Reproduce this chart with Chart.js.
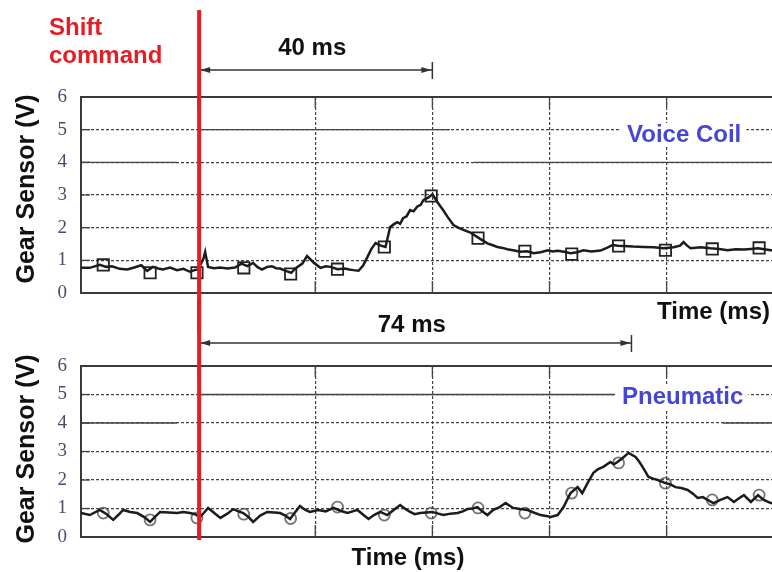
<!DOCTYPE html>
<html>
<head>
<meta charset="utf-8">
<script src="https://cdn.jsdelivr.net/npm/chart.js@4.4.1/dist/chart.umd.min.js"></script>
<style>
  html, body { margin: 0; padding: 0; background: #fff; overflow: hidden; }
  body { width: 772px; height: 572px; position: relative; }
  canvas { position: absolute; left: 0; }
  #topChart { top: 0; }
  #bottomChart { top: 300px; }
</style>
</head>
<body>
<canvas id="topChart" width="772" height="330"></canvas>
<canvas id="bottomChart" width="772" height="272"></canvas>
<script>
// time in ms, gear sensor in V
const voiceTime = [
  0, 1.5, 3.2, 4.3, 5.3, 6.6, 7.9, 9.1, 10.3, 11.3,
  12.3, 13.2, 14.0, 15.2, 16.4, 17.5, 18.6, 19.4, 20.0, 20.9,
  21.2, 21.7, 22.7, 23.8, 25.0, 26.3, 27.4, 28.4, 29.4, 30.1,
  30.9, 31.8, 32.6, 33.3, 34.0, 35.2, 35.9, 36.6, 37.8, 38.6,
  39.8, 40.9, 41.8, 42.6, 43.8, 45.1, 45.8, 46.5, 47.4, 48.2,
  48.9, 49.6, 50.3, 51.2, 52.0, 52.8, 53.4, 54.0, 54.5, 55.0,
  55.6, 56.2, 56.8, 57.4, 58.0, 58.5, 59.3, 60.0, 61.0, 61.8,
  62.6, 63.6, 64.4, 65.3, 66.5, 67.7, 68.5, 69.4, 70.2, 71.1,
  72.0, 72.8, 74.0, 75.0, 76.2, 77.3, 78.5, 79.7, 80.5, 81.4,
  82.5, 83.6, 84.7, 85.8, 87.2, 88.7, 89.8, 90.8, 91.7, 92.6,
  94.3, 96.1, 97.8, 99.5, 101.2, 102.3, 102.9, 103.5, 104.1, 105.8,
  107.5, 109.0, 110.4, 111.8, 113.2, 114.4, 115.6, 116.7, 117.8, 120
];
const voiceVolt = [
  0.77, 0.77, 0.86, 0.80, 0.82, 0.74, 0.72, 0.78, 0.85, 0.68,
  0.80, 0.75, 0.72, 0.78, 0.70, 0.74, 0.65, 0.70, 0.72, 1.05,
  1.26, 0.80, 0.76, 0.78, 0.75, 0.78, 0.90, 0.82, 0.92, 0.80,
  0.72, 0.80, 0.82, 0.76, 0.75, 0.66, 0.62, 0.75, 0.90, 1.13,
  0.92, 0.77, 0.82, 0.80, 0.73, 0.75, 0.72, 0.70, 0.68, 0.85,
  1.10, 1.35, 1.53, 1.45, 1.41, 2.02, 2.10, 2.17, 2.12, 2.29,
  2.35, 2.54, 2.50, 2.64, 2.70, 2.85, 2.92, 3.02, 2.75, 2.55,
  2.33, 2.08, 2.00, 1.93, 1.85, 1.71, 1.62, 1.52, 1.47, 1.41,
  1.38, 1.34, 1.30, 1.26, 1.28, 1.22, 1.25, 1.31, 1.27, 1.29,
  1.26, 1.22, 1.25, 1.31, 1.27, 1.30, 1.38, 1.47, 1.45, 1.44,
  1.42, 1.41, 1.40, 1.37, 1.40, 1.45, 1.56, 1.45, 1.37, 1.40,
  1.37, 1.35, 1.31, 1.34, 1.33, 1.35, 1.37, 1.34, 1.31, 1.33
];
const voiceMarkTime = [3.8, 11.8, 19.8, 27.8, 35.8, 43.8, 51.8, 59.8, 67.8, 75.8, 83.8, 91.8, 99.8, 107.8, 115.8];
const voiceMarkVolt = [0.86, 0.62, 0.62, 0.77, 0.58, 0.73, 1.41, 2.97, 1.68, 1.28, 1.19, 1.44, 1.31, 1.35, 1.38];

const pneuTime = [
  0, 1.5, 3.2, 4.4, 5.5, 6.4, 7.2, 8.4, 9.6, 10.8,
  11.8, 12.6, 13.5, 15.0, 16.4, 17.5, 18.6, 19.5, 20.3, 21.0,
  21.7, 22.7, 23.8, 25.0, 26.0, 26.9, 27.7, 28.6, 29.4, 30.6,
  31.8, 33.0, 34.0, 34.9, 35.7, 36.6, 37.4, 38.3, 39.1, 40.5,
  41.8, 43.1, 44.3, 45.5, 46.4, 47.2, 48.2, 49.1, 50.1, 51.1,
  52.3, 53.4, 54.5, 55.4, 56.2, 57.0, 57.9, 59.0, 60.0, 61.0,
  61.9, 63.1, 64.3, 65.2, 66.0, 66.9, 67.7, 68.5, 69.4, 70.4,
  71.5, 72.5, 73.8, 75.0, 76.2, 77.4, 78.5, 79.4, 80.2, 81.4,
  82.4, 83.0, 83.6, 84.8, 85.6, 86.5, 87.5, 88.3, 89.2, 90.4,
  91.0, 91.6, 92.5, 93.5, 94.7, 95.3, 95.9, 96.9, 97.7, 98.5,
  99.8, 100.6, 101.5, 102.5, 103.6, 104.5, 105.3, 106.2, 107.0, 108.0,
  109.2, 110.4, 111.5, 112.3, 113.2, 114.4, 115.6, 116.6, 117.8, 120
];
const pneuVolt = [
  0.84, 0.77, 0.95, 0.80, 0.60, 0.78, 0.95, 0.88, 0.84, 0.70,
  0.53, 0.70, 0.88, 0.86, 0.84, 0.88, 0.84, 0.80, 0.70, 0.85,
  1.02, 0.85, 0.67, 0.82, 0.98, 0.90, 0.84, 0.70, 0.53, 0.75,
  0.88, 0.86, 0.84, 0.75, 0.63, 0.88, 1.09, 0.95, 0.88, 0.95,
  0.90, 1.02, 0.92, 0.84, 0.90, 0.95, 0.78, 0.63, 0.78, 0.88,
  0.77, 0.95, 1.12, 0.98, 0.88, 0.80, 0.84, 0.86, 0.88, 0.82,
  0.77, 0.82, 0.84, 0.90, 0.98, 1.00, 1.05, 0.90, 0.77, 0.95,
  1.05, 1.19, 1.02, 0.98, 0.95, 0.85, 0.77, 0.74, 0.70, 0.77,
  1.05, 1.30, 1.54, 1.75, 1.54, 1.89, 2.25, 2.38, 2.46, 2.63,
  2.55, 2.63, 2.77, 2.95, 2.81, 2.65, 2.46, 2.11, 2.05, 2.00,
  1.89, 1.85, 1.75, 1.72, 1.65, 1.52, 1.37, 1.40, 1.30, 1.19,
  1.30, 1.40, 1.23, 1.35, 1.47, 1.23, 1.47, 1.30, 1.19, 1.15
];
const pneuMarkTime = [3.8, 11.8, 19.8, 27.8, 35.8, 43.8, 51.8, 59.8, 67.8, 75.8, 83.8, 91.8, 99.8, 107.8, 115.8];
const pneuMarkVolt = [0.84, 0.60, 0.67, 0.80, 0.65, 1.05, 0.77, 0.84, 1.02, 0.84, 1.54, 2.60, 1.89, 1.30, 1.47];

const yTicks = [0, 1, 2, 3, 4, 5, 6];
const xGridTicks = [0, 20, 40, 60, 80, 100];
const shiftTime = 20;
const voiceDelay = 40;
const pneuDelay = 74;

const GRID = '#444';
const BOLD = 'bold 24px "Liberation Sans", Arial, sans-serif';

function pts(ts, vs) {
  return ts.map((t, i) => ({ x: t, y: vs[i] }));
}

function line(ctx, x0, y0, x1, y1) {
  ctx.beginPath();
  ctx.moveTo(x0, y0);
  ctx.lineTo(x1, y1);
  ctx.stroke();
}

// ---- span arrow ("40 ms", "74 ms") ----
function drawSpan(ctx, x0, x1, y, label, labelY) {
  ctx.save();
  ctx.strokeStyle = '#333';
  ctx.fillStyle = '#333';
  ctx.lineWidth = 1.5;
  line(ctx, x0, y, x1, y);
  line(ctx, x1, y - 8, x1, y + 9);
  ctx.beginPath();
  ctx.moveTo(x0 + 2, y);
  ctx.lineTo(x0 + 12, y - 3);
  ctx.lineTo(x0 + 12, y + 3);
  ctx.closePath();
  ctx.fill();
  ctx.beginPath();
  ctx.moveTo(x1 - 1, y);
  ctx.lineTo(x1 - 11, y - 3);
  ctx.lineTo(x1 - 11, y + 3);
  ctx.closePath();
  ctx.fill();
  ctx.font = BOLD;
  ctx.fillStyle = '#111';
  ctx.textAlign = 'center';
  ctx.textBaseline = 'middle';
  ctx.fillText(label, (x0 + x1) / 2 - 3, labelY);
  ctx.restore();
}

function vText(ctx, text, x, y) {
  ctx.save();
  ctx.translate(x, y);
  ctx.rotate(-Math.PI / 2);
  ctx.font = 'bold 25px "Liberation Sans", Arial, sans-serif';
  ctx.fillStyle = '#111';
  ctx.textAlign = 'center';
  ctx.textBaseline = 'middle';
  ctx.fillText(text, 0, 0);
  ctx.restore();
}

// grid decorations, frame, series name, red shift line
function scopePlugin(cfg) {
  return {
    id: 'scope',
    beforeDatasetsDraw(chart) {
      const { ctx, chartArea: a, scales: { x, y } } = chart;
      ctx.save();
      ctx.strokeStyle = GRID;
      ctx.lineWidth = 1.3;
      // solid stretches on some grid rows
      cfg.solidRuns.forEach(r => {
        const py = y.getPixelForValue(r[0]);
        line(ctx, x.getPixelForValue(r[1]), py, Math.min(a.right, x.getPixelForValue(r[2])), py);
      });
      // inward tick marks
      xGridTicks.slice(1).forEach(t => {
        const px = x.getPixelForValue(t);
        line(ctx, px, a.top, px, a.top + 11);
        line(ctx, px, a.bottom - 12, px, a.bottom);
      });
      yTicks.forEach(v => {
        const py = y.getPixelForValue(v);
        line(ctx, a.left, py, a.left + 9, py);
      });
      // series name on white
      ctx.font = BOLD;
      const w = ctx.measureText(cfg.name).width;
      ctx.fillStyle = '#fff';
      ctx.fillRect(cfg.nameX - 7, cfg.nameY - 12, w + 12, 24);
      ctx.fillStyle = '#4545d6';
      ctx.textBaseline = 'middle';
      ctx.fillText(cfg.name, cfg.nameX, cfg.nameY);
      // frame
      ctx.strokeStyle = '#3a3a3a';
      ctx.lineWidth = 2;
      ctx.beginPath();
      ctx.moveTo(a.right, a.top);
      ctx.lineTo(a.left, a.top);
      ctx.lineTo(a.left, a.bottom);
      ctx.lineTo(a.right, a.bottom);
      ctx.stroke();
      ctx.restore();
    },
    afterDraw(chart) {
      const { ctx, scales: { x } } = chart;
      const sx = x.getPixelForValue(shiftTime);
      drawSpan(ctx, sx, x.getPixelForValue(shiftTime + cfg.delay), cfg.spanY, cfg.delay + ' ms', cfg.spanLabelY);
      vText(ctx, 'Gear Sensor (V)', 27, cfg.yTitleY);
      ctx.save();
      ctx.font = BOLD;
      ctx.fillStyle = '#111';
      ctx.textBaseline = 'middle';
      ctx.textAlign = cfg.timeAlign;
      ctx.fillText('Time (ms)', cfg.timeX, cfg.timeY);
      if (cfg.shiftLabel) {
        ctx.fillStyle = '#e31e24';
        ctx.textAlign = 'left';
        ctx.fillText('Shift', 49, 28);
        ctx.fillText('command', 49, 56);
      }
      ctx.strokeStyle = '#e31e24';
      ctx.lineWidth = 4;
      line(ctx, sx + 1, cfg.redTop, sx + 1, cfg.redBottom);
      ctx.restore();
    }
  };
}

function makeChart(id, lineData, markData, marker, padTop, padBottom, cfg) {
  return new Chart(document.getElementById(id), {
    type: 'line',
    data: {
      datasets: [
        {
          data: lineData,
          borderColor: '#1c1c1c',
          borderWidth: 2.5,
          pointRadius: 0,
          tension: 0
        },
        {
          data: markData,
          showLine: false,
          pointStyle: marker.style,
          pointRadius: marker.radius,
          pointBorderColor: marker.color,
          pointBorderWidth: 1.8,
          pointBackgroundColor: 'rgba(0,0,0,0)'
        }
      ]
    },
    options: {
      responsive: false,
      animation: false,
      devicePixelRatio: 1,
      layout: { autoPadding: false, padding: { top: padTop, bottom: padBottom, left: 0, right: 0 } },
      plugins: { legend: { display: false }, tooltip: { enabled: false } },
      scales: {
        x: {
          type: 'linear',
          min: 0,
          max: 118,
          afterBuildTicks: s => { s.ticks = xGridTicks.map(v => ({ value: v })); },
          ticks: { display: false },
          grid: { color: GRID, lineWidth: 1.2, drawTicks: false },
          border: { display: false, dash: [3, 2] }
        },
        y: {
          min: 0,
          max: 6,
          afterFit: s => { s.width = 81; },
          afterBuildTicks: s => { s.ticks = yTicks.map(v => ({ value: v })); },
          ticks: {
            padding: 14,
            color: '#4c4a6e',
            font: { family: "'Liberation Serif', 'DejaVu Serif', serif", size: 19 }
          },
          grid: { color: GRID, lineWidth: 1.2, drawTicks: false },
          border: { display: false, dash: [3, 2] }
        }
      }
    },
    plugins: [scopePlugin(cfg)]
  });
}

makeChart('topChart',
  pts(voiceTime, voiceVolt), pts(voiceMarkTime, voiceMarkVolt),
  { style: 'rect', radius: 8, color: '#222' },
  97, 37,
  {
    name: 'Voice Coil', nameX: 627, nameY: 135,
    solidRuns: [[5, 20, 63], [4, 0, 16.4], [4, 67, 118]],
    delay: voiceDelay, spanY: 70, spanLabelY: 48,
    yTitleY: 189, timeX: 770, timeY: 312, timeAlign: 'right',
    shiftLabel: true, redTop: 10, redBottom: 330
  });

makeChart('bottomChart',
  pts(pneuTime, pneuVolt), pts(pneuMarkTime, pneuMarkVolt),
  { style: 'circle', radius: 5.5, color: 'rgba(70,70,70,0.75)' },
  66, 35,
  {
    name: 'Pneumatic', nameX: 622, nameY: 97,
    solidRuns: [[5, 20, 92], [4, 0, 16.4], [4, 109.6, 118]],
    delay: pneuDelay, spanY: 43, spanLabelY: 25,
    yTitleY: 149, timeX: 408, timeY: 258, timeAlign: 'center',
    shiftLabel: false, redTop: 0, redBottom: 240
  });
</script>
</body>
</html>
